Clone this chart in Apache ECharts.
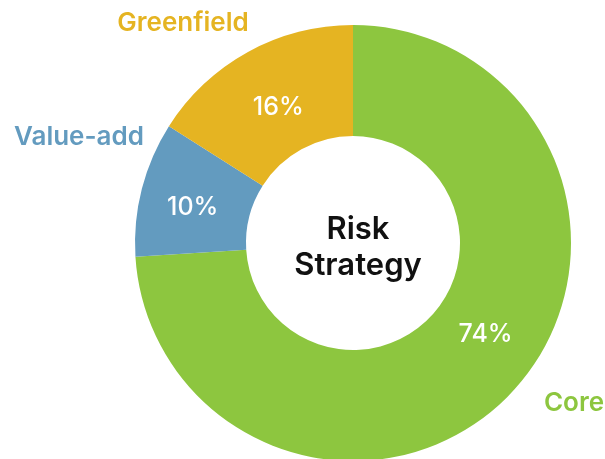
<!DOCTYPE html>
<html>
<head>
<meta charset="utf-8">
<script src="https://cdn.jsdelivr.net/npm/echarts@6/dist/echarts.min.js"></script>
<style>
html,body{margin:0;padding:0;background:#fff;}
#chart{width:605px;height:459px;}
</style>
</head>
<body>
<div id="chart"></div>
<script>
const categories = ['Core', 'Value-add', 'Greenfield'];
const values = [74, 10, 16];
const colors = ['#8DC63F', '#639BBF', '#E5B422'];
const centerTitle = 'Risk\nStrategy';

const chart = echarts.init(document.getElementById('chart'));
const FONT = 'Inter';
chart.setOption({
  animation: false,
  series: [{
    type: 'pie',
    center: [353, 243],
    radius: [107, 218],
    startAngle: 90,
    clockwise: true,
    silent: true,
    data: categories.map((c, i) => ({
      name: c, value: values[i],
      itemStyle: { color: colors[i] }
    })),
    label: {
      show: true,
      position: 'inside',
      formatter: '{c}%',
      color: '#fff',
      fontFamily: FONT,
      fontSize: 25,
      fontWeight: 500
    },
    labelLine: { show: false },
    labelLayout: function (p) {
      if (p.dataIndex === 0) return { dx: 12, dy: -22 };
      if (p.dataIndex === 2) return { dx: 5, dy: 10 };
      if (p.dataIndex === 1) return { dx: 0, dy: 6 };
      return {};
    }
  }],
  graphic: [
    { type: 'text', style: { text: centerTitle, x: 358, y: 248, align: 'center', verticalAlign: 'middle', fill: '#111', font: '600 31px ' + FONT, lineHeight: 36 } },
    { type: 'text', style: { text: categories[2], x: 183, y: 23, align: 'center', verticalAlign: 'middle', fill: colors[2], font: '600 26px ' + FONT } },
    { type: 'text', style: { text: categories[1], x: 79, y: 137, align: 'center', verticalAlign: 'middle', fill: colors[1], font: '600 26px ' + FONT } },
    { type: 'text', style: { text: categories[0], x: 574, y: 403, align: 'center', verticalAlign: 'middle', fill: colors[0], font: '600 26px ' + FONT } }
  ]
});
</script>
</body>
</html>
